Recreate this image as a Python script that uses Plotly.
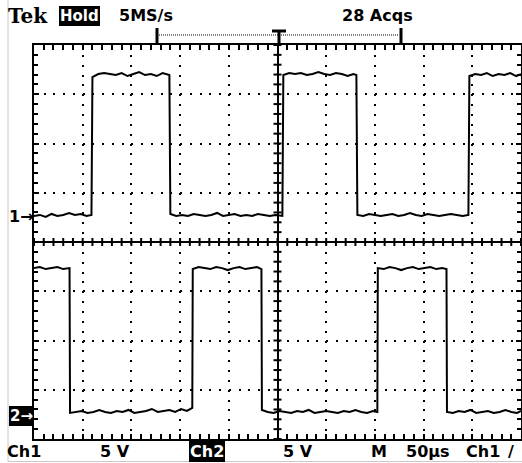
import plotly.graph_objects as go

W, H = 522, 463

# ---- acquisition settings ----
VOLTS_PER_DIV = 5          # both channels, 5 V/div
TIME_PER_DIV = 50          # µs/div
CH1_POS_DIV = 0.53         # ground marker of Ch1 (divisions above centre)
CH2_POS_DIV = -3.47        # ground marker of Ch2

# ---- Ch1 trace (time µs, volts) ----
ch1_t = [-250, -244, -238, -232, -226, -220, -214, -208, -202, -196, -191,
         -190, -184, -178, -172, -166, -160, -154, -148, -142, -136, -130, -124, -118, -111,
         -110, -104, -98, -92, -86, -80, -74, -68, -62, -56, -50, -44, -38, -32, -26, -20, -14, -8, -2, 5,
         6, 12, 18, 24, 30, 36, 42, 48, 54, 60, 66, 72, 78, 81,
         82, 88, 94, 100, 106, 112, 118, 124, 130, 136, 142, 148, 154, 160, 166, 172, 178, 184, 190, 196,
         197, 203, 209, 215, 221, 227, 233, 239, 245, 250]
ch1_v = [0.0, 0.1, -0.1, 0.2, 0.0, 0.1, 0.3, 0.1, 0.2, 0.0, 0.1,
         14.1, 14.4, 14.5, 14.4, 14.3, 14.5, 14.2, 14.4, 14.6, 14.3, 14.4, 14.2, 14.5, 14.3,
         0.2, 0.0, 0.1, 0.0, 0.2, 0.1, 0.0, 0.1, 0.3, 0.0, 0.1, 0.2, 0.0, 0.1, 0.0, 0.2, 0.1, 0.0, 0.1, 0.0,
         14.3, 14.5, 14.4, 14.5, 14.3, 14.4, 14.6, 14.4, 14.3, 14.5, 14.4, 14.2, 14.4, 14.3,
         0.1, 0.0, 0.2, 0.1, 0.0, 0.1, 0.2, 0.0, 0.1, 0.3, 0.1, 0.0, 0.2, 0.1, 0.0, 0.1, 0.2, 0.1, 0.0, 0.1,
         14.2, 14.4, 14.3, 14.5, 14.2, 14.4, 14.3, 14.5, 14.2, 14.4]

# ---- Ch2 trace (time µs, volts) ----
ch2_t = [-250, -244, -238, -232, -226, -220, -213.5,
         -213, -207, -201, -195, -189, -183, -177, -171, -165, -159, -153, -147, -141, -135, -129, -123,
         -117, -111, -105, -99, -93, -87.5,
         -87, -81, -75, -69, -63, -57, -51, -45, -39, -33, -27, -21, -16.5,
         -16, -10, -4, 2, 8, 14, 20, 26, 32, 38, 44, 50, 56, 62, 68, 74, 80, 86, 92, 98, 102.5,
         103, 109, 115, 121, 127, 133, 139, 145, 151, 157, 163, 169, 173.5,
         174, 180, 186, 192, 198, 204, 210, 216, 222, 228, 234, 240, 246, 250]
ch2_v = [14.7, 14.8, 14.6, 14.7, 14.8, 14.6, 14.7,
         0.0, 0.1, 0.2, 0.0, 0.1, 0.3, 0.1, 0.0, 0.2, 0.1, 0.3, 0.0, 0.1, 0.2, 0.4, 0.1,
         0.2, 0.3, 0.1, 0.4, 0.2, 0.5,
         14.6, 14.8, 14.7, 14.6, 14.8, 14.7, 14.5, 14.7, 14.8, 14.6, 14.7, 14.8, 14.6,
         0.3, 0.1, 0.0, 0.2, 0.1, 0.0, 0.2, 0.1, 0.3, 0.0, 0.1, 0.2, 0.1, 0.0, 0.2, 0.1, 0.3, 0.1, 0.0, 0.2, 0.1,
         14.7, 14.6, 14.8, 14.7, 14.5, 14.7, 14.8, 14.6, 14.7, 14.8, 14.6, 14.7, 14.6,
         0.1, 0.0, 0.2, 0.1, 0.3, 0.0, 0.1, 0.2, 0.0, 0.1, 0.3, 0.1, 0.0, 0.2]

# ---- screen geometry (pixels) ----
L, R, T, B = 34, 521, 45, 439
HDIV, VDIV = 10, 8
dx_div = (R - L) / HDIV
dy_div = (B - T) / VDIV


def px(x):
    return x / W


def py(y):
    return 1 - y / H


half_t = HDIV / 2 * TIME_PER_DIV
ch1_range = [(-VDIV / 2 - CH1_POS_DIV) * VOLTS_PER_DIV, (VDIV / 2 - CH1_POS_DIV) * VOLTS_PER_DIV]
ch2_range = [(-VDIV / 2 - CH2_POS_DIV) * VOLTS_PER_DIV, (VDIV / 2 - CH2_POS_DIV) * VOLTS_PER_DIV]

fig = go.Figure()
fig.add_trace(go.Scatter(x=ch1_t, y=ch1_v, yaxis="y2", mode="lines",
                         line=dict(color="black", width=2), hoverinfo="skip", showlegend=False))
fig.add_trace(go.Scatter(x=ch2_t, y=ch2_v, yaxis="y3", mode="lines",
                         line=dict(color="black", width=2), hoverinfo="skip", showlegend=False))

axis_common = dict(showticklabels=False, ticks="inside", ticklen=5, tickwidth=2, tickcolor="black",
                   showline=True, linecolor="black", linewidth=2, mirror="allticks",
                   showgrid=True, gridcolor="black", gridwidth=2,
                   zeroline=True, zerolinecolor="black", zerolinewidth=2, fixedrange=True)

fig.update_layout(
    width=W, height=H, margin=dict(l=0, r=0, t=0, b=0),
    paper_bgcolor="white", plot_bgcolor="white", showlegend=False,
    xaxis=dict(domain=[px(L), px(R)], range=[-half_t, half_t], dtick=TIME_PER_DIV, tick0=0,
               griddash="2px,%.2fpx" % (dy_div / 5 - 2),
               minor=dict(dtick=TIME_PER_DIV / 5, ticks="inside", ticklen=4, tickwidth=2,
                          tickcolor="black", showgrid=False),
               **axis_common),
    yaxis=dict(domain=[py(B), py(T)], range=[-VDIV / 2, VDIV / 2], dtick=1, tick0=0,
               griddash="2px,%.2fpx" % (dx_div / 5 - 2),
               minor=dict(dtick=0.2, ticks="inside", ticklen=4, tickwidth=2,
                          tickcolor="black", showgrid=False),
               **axis_common),
    yaxis2=dict(overlaying="y", range=ch1_range, visible=False, fixedrange=True),
    yaxis3=dict(overlaying="y", range=ch2_range, visible=False, fixedrange=True),
)

shapes = []
# tick marks on the centre cross
tick_t = TIME_PER_DIV / 5
for k in range(-HDIV * 5 // 2, HDIV * 5 // 2 + 1):
    t = k * tick_t
    shapes.append(dict(type="line", xref="x", yref="y", x0=t, x1=t, y0=-4 / dy_div, y1=4 / dy_div,
                       line=dict(color="black", width=2), layer="above"))
for k in range(-VDIV * 5 // 2, VDIV * 5 // 2 + 1):
    yv = k * 0.2
    shapes.append(dict(type="line", xref="x", yref="y", x0=-4 / dx_div * TIME_PER_DIV,
                       x1=4 / dx_div * TIME_PER_DIV, y0=yv, y1=yv,
                       line=dict(color="black", width=2), layer="above"))

# record-view bracket at the top
blk = dict(color="black", width=2)
shapes += [
    dict(type="line", xref="paper", yref="paper", x0=px(157), x1=px(157), y0=py(28), y1=py(45), line=dict(color="black", width=3)),
    dict(type="line", xref="paper", yref="paper", x0=px(159), x1=px(398), y0=py(35), y1=py(35),
         line=dict(color="black", width=1, dash="1px,1px")),
    dict(type="line", xref="paper", yref="paper", x0=px(272), x1=px(286), y0=py(31), y1=py(31), line=dict(color="black", width=3)),
    dict(type="line", xref="paper", yref="paper", x0=px(279), x1=px(279), y0=py(31), y1=py(44), line=dict(color="black", width=3)),
    dict(type="line", xref="paper", yref="paper", x0=px(401), x1=px(401), y0=py(28), y1=py(45), line=dict(color="black", width=3)),
    dict(type="line", xref="paper", yref="paper", x0=px(397), x1=px(401), y0=py(44), y1=py(44), line=blk),
    # faint outer border of the screenshot
    dict(type="line", xref="paper", yref="paper", x0=px(8), x1=px(8), y0=py(0), y1=py(461.5),
         line=dict(color="#c8c8c8", width=1)),
    dict(type="line", xref="paper", yref="paper", x0=px(8), x1=1, y0=py(461.5), y1=py(461.5),
         line=dict(color="#c8c8c8", width=1)),
]
fig.update_layout(shapes=shapes)

FONT = "DejaVu Sans"


def label(text, x, y, size=15, inverse=False, family=FONT, anchor="left", pad=0):
    return dict(text="<b>%s</b>" % text, x=px(x), y=py(y), xref="paper", yref="paper",
                xanchor=anchor, yanchor="middle", showarrow=False,
                font=dict(family=family, size=size, color="white" if inverse else "black"),
                bgcolor="black" if inverse else None, borderpad=pad, borderwidth=0)


annotations = [
    label("Tek", 8, 16, size=20, family="DejaVu Serif"),
    label("Hold", 59, 16, size=15, inverse=True, pad=1),
    label("5MS/s", 119, 16, size=16),
    label("28 Acqs", 377, 16, size=16, anchor="center"),
    label("1→", 9, 216, size=16),
    label("2→", 9, 416, size=15, inverse=True, pad=1),
    label("Ch1", 7, 451, size=16),
    label("5 V", 100, 451, size=16),
    label("Ch2", 189, 451, size=16, inverse=True, pad=1),
    label("5 V", 283, 451, size=16),
    label("M", 371, 451, size=16),
    label("50µs", 406, 451, size=16),
    label("Ch1", 466, 451, size=16),
    label("/", 508, 451, size=16),
]
fig.update_layout(annotations=annotations)

fig.write_html("out.html")
